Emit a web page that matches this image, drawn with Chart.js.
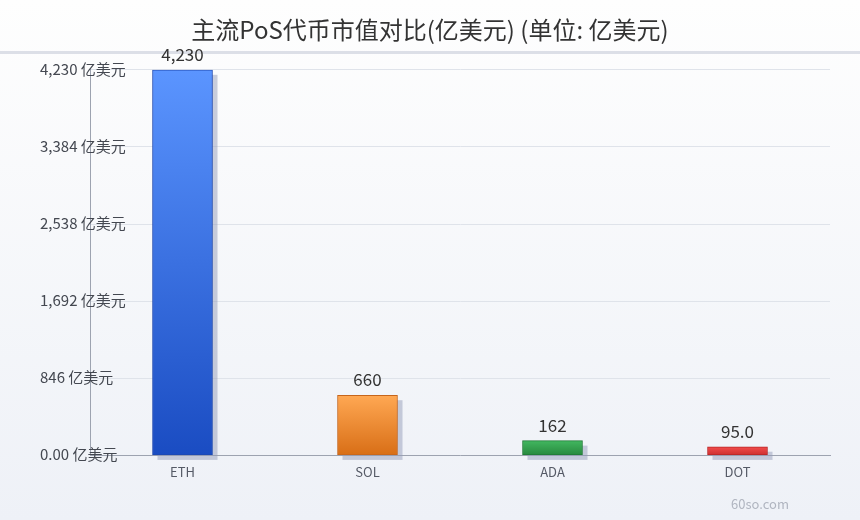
<!DOCTYPE html>
<html>
<head>
<meta charset="utf-8">
<script src="https://cdn.jsdelivr.net/npm/chart.js@4.4.1/dist/chart.umd.min.js"></script>
<style>
  html, body { margin: 0; padding: 0; }
  #wrap { width: 860px; height: 520px; }
</style>
</head>
<body>
<div id="wrap"><canvas id="pos-chart" width="860" height="520"></canvas></div>
<script>
// data
const coins = ['ETH', 'SOL', 'ADA', 'DOT'];
const marketCaps = [4230, 660, 162, 95.0];
const valueLabels = ['4,230', '660', '162', '95.0'];
const yMax = 4230;
const yStep = 846;

const FONT = '"Noto Sans CJK SC", "Noto Sans", sans-serif';

const barColors = [
    ['#5b95ff', '#1a4cc2', '#1d48b0'],
    ['#ffa853', '#d86e16', '#c6651b'],
    ['#42b760', '#27883d', '#1f7a35'],
    ['#f24c4c', '#cc2f2f', '#b82626']
];

function tickText(v) {
    return (v === 0 ? '0.00' : v.toLocaleString('en-US')) + ' 亿美元';
}

function barGradient(context) {
    const chart = context.chart;
    const area = chart.chartArea;
    if (!area) return barColors[context.dataIndex][0];
    const c = barColors[context.dataIndex];
    const y = chart.scales.y;
    const top = y.getPixelForValue(marketCaps[context.dataIndex]);
    const g = chart.ctx.createLinearGradient(0, top, 0, area.bottom);
    g.addColorStop(0, c[0]);
    g.addColorStop(1, c[1]);
    return g;
}

const backdrop = {
    id: 'backdrop',
    beforeDraw(chart) {
        const {ctx, width, height} = chart;
        ctx.save();
        const g = ctx.createLinearGradient(0, 0, 0, height);
        g.addColorStop(0, '#fefefe');
        g.addColorStop(1, '#eef1f7');
        ctx.fillStyle = g;
        ctx.fillRect(0, 0, width, height);
        ctx.fillStyle = '#dcdfe7';
        ctx.fillRect(0, 51, width, 3);
        ctx.restore();
    }
};

const barShadows = {
    id: 'barShadows',
    beforeDatasetsDraw(chart) {
        const {ctx} = chart;
        const meta = chart.getDatasetMeta(0);
        ctx.save();
        ctx.fillStyle = 'rgba(150,158,185,0.5)';
        meta.data.forEach(bar => {
            const w = bar.width;
            ctx.fillRect(bar.x - w / 2 + 5, bar.y + 5, w, bar.base - bar.y);
        });
        ctx.restore();
    },
    afterDatasetsDraw(chart) {
        const {ctx} = chart;
        const meta = chart.getDatasetMeta(0);
        ctx.save();
        ctx.font = '17px ' + FONT;
        ctx.fillStyle = '#333333';
        ctx.textAlign = 'center';
        ctx.textBaseline = 'bottom';
        meta.data.forEach((bar, i) => {
            ctx.fillText(valueLabels[i], bar.x, bar.y - 7);
        });

        // y tick labels, left aligned and allowed to run over the axis
        const y = chart.scales.y;
        ctx.font = '15px ' + FONT;
        ctx.fillStyle = '#444851';
        ctx.textAlign = 'left';
        ctx.textBaseline = 'middle';
        y.ticks.forEach(t => {
            ctx.fillText(tickText(t.value), 40, y.getPixelForValue(t.value) - 1);
        });

        ctx.font = '13px ' + FONT;
        ctx.fillStyle = '#b0b5c0';
        ctx.textAlign = 'center';
        ctx.textBaseline = 'bottom';
        ctx.fillText('60so.com', 760, 511);
        ctx.restore();
    }
};

new Chart(document.getElementById('pos-chart'), {
    type: 'bar',
    data: {
        labels: coins,
        datasets: [{
            data: marketCaps,
            backgroundColor: barGradient,
            borderColor: ctx => barColors[ctx.dataIndex][2],
            borderWidth: 1,
            borderSkipped: false,
            barThickness: 60
        }]
    },
    options: {
        responsive: false,
        animation: false,
        layout: {
            padding: {left: 30, right: 30, top: 0, bottom: 39}
        },
        plugins: {
            legend: {display: false},
            tooltip: {enabled: false},
            title: {
                display: true,
                text: '主流PoS代币市值对比(亿美元) (单位: 亿美元)',
                color: '#333333',
                font: {size: 24, family: FONT, weight: 'normal'},
                padding: {top: 15, bottom: 26}
            }
        },
        scales: {
            x: {
                grid: {display: false},
                border: {color: '#9da3b0'},
                ticks: {
                    color: '#555a66',
                    font: {size: 13, family: FONT},
                    padding: 1
                }
            },
            y: {
                min: 0,
                max: yMax,
                afterFit(scale) { scale.width = 60; },
                grid: {color: '#dfe3ea', drawTicks: false},
                border: {color: '#9da3b0'},
                ticks: {
                    stepSize: yStep,
                    color: 'rgba(0,0,0,0)',
                    font: {size: 14, family: FONT},
                    callback: v => tickText(v)
                }
            }
        }
    },
    plugins: [backdrop, barShadows]
});
</script>
</body>
</html>
